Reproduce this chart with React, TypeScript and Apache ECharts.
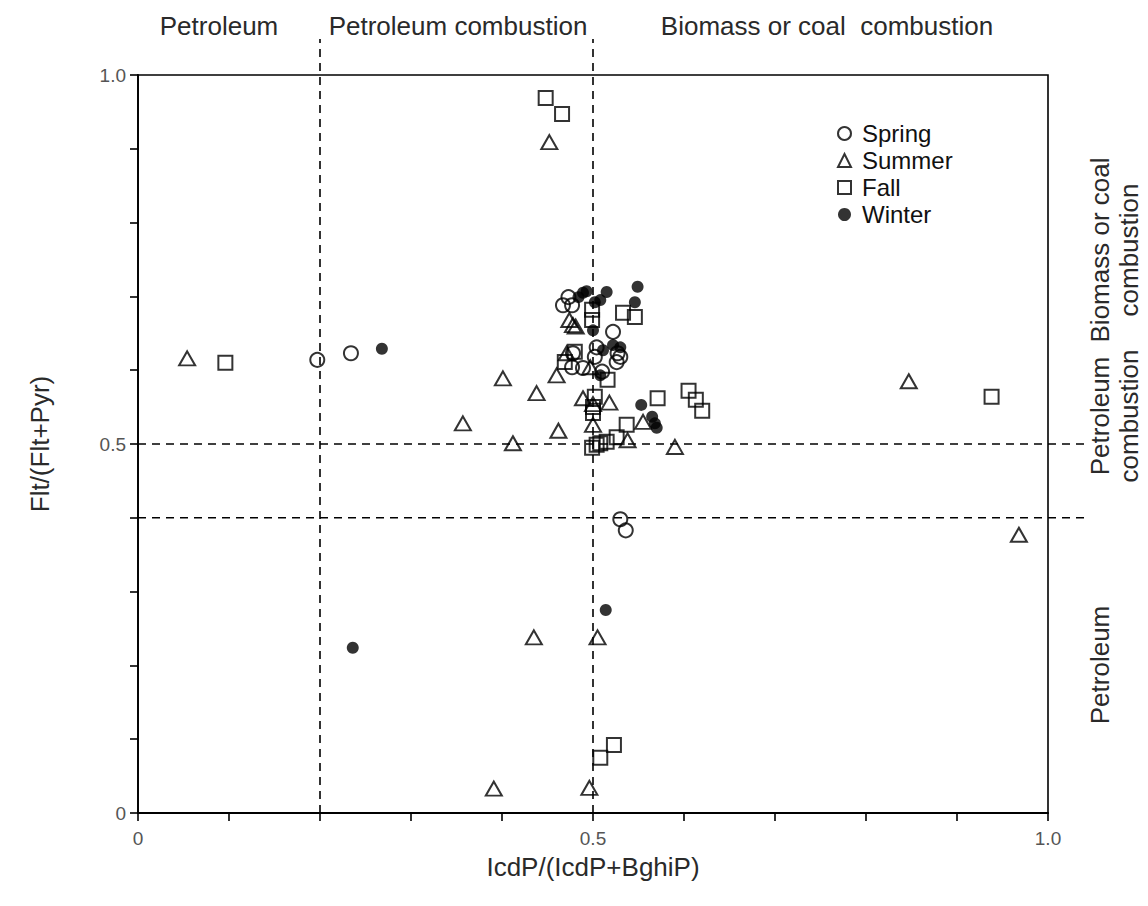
import React, { useEffect, useRef } from "react";
import * as echarts from "echarts";

// IcdP/(IcdP+BghiP) vs Flt/(Flt+Pyr) diagnostic ratios by season
const spring: [number, number][] = [
  [0.197, 0.614], [0.234, 0.623],
  [0.473, 0.699], [0.467, 0.688], [0.477, 0.688],
  [0.522, 0.652], [0.527, 0.623], [0.530, 0.618], [0.526, 0.611],
  [0.504, 0.631], [0.502, 0.618], [0.510, 0.598], [0.477, 0.604],
  [0.489, 0.603], [0.478, 0.623],
  [0.530, 0.398], [0.536, 0.383],
];

const summer: [number, number][] = [
  [0.054, 0.616], [0.452, 0.909],
  [0.474, 0.668], [0.478, 0.661], [0.481, 0.659],
  [0.471, 0.623], [0.460, 0.593], [0.497, 0.604],
  [0.401, 0.589], [0.438, 0.569], [0.357, 0.528], [0.412, 0.501],
  [0.462, 0.518], [0.489, 0.562], [0.500, 0.554], [0.518, 0.556],
  [0.500, 0.526], [0.555, 0.530], [0.538, 0.505], [0.590, 0.496],
  [0.847, 0.585], [0.968, 0.377],
  [0.435, 0.238], [0.505, 0.238],
  [0.391, 0.033], [0.496, 0.034],
];

const fall: [number, number][] = [
  [0.096, 0.610], [0.448, 0.969], [0.466, 0.947],
  [0.499, 0.682], [0.499, 0.668], [0.533, 0.678], [0.546, 0.672],
  [0.480, 0.625], [0.469, 0.611], [0.516, 0.587],
  [0.502, 0.564], [0.500, 0.550], [0.500, 0.542],
  [0.571, 0.562], [0.605, 0.572], [0.613, 0.560], [0.620, 0.545],
  [0.537, 0.526], [0.526, 0.509], [0.515, 0.503], [0.508, 0.501],
  [0.504, 0.499], [0.499, 0.495],
  [0.938, 0.564],
  [0.523, 0.092], [0.508, 0.075],
];

const winter: [number, number][] = [
  [0.268, 0.629],
  [0.484, 0.699], [0.489, 0.705], [0.493, 0.707], [0.515, 0.706],
  [0.549, 0.713], [0.546, 0.692], [0.502, 0.692], [0.508, 0.695],
  [0.500, 0.654],
  [0.522, 0.634], [0.530, 0.631], [0.511, 0.627], [0.508, 0.593],
  [0.553, 0.553], [0.565, 0.537], [0.568, 0.528], [0.570, 0.522],
  [0.236, 0.224], [0.514, 0.275],
];

// Source-diagnostic boundaries
const xDividers = [0.2, 0.5];
const yDividers = [0.4, 0.5];

const xTickLabels: Record<string, string> = { "0": "0", "0.5": "0.5", "1": "1.0" };
const yTickLabels: Record<string, string> = { "0": "0", "0.5": "0.5", "1": "1.0" };

const TEXT = "#2a2a2a";
const FONT = "Liberation Sans, Arial, sans-serif";
const FS = 26;

function tickLabel(map: Record<string, string>) {
  return (v: number) => {
    const key = String(Math.round(v * 10) / 10);
    return map[key] ?? "";
  };
}

const dashStyle = { stroke: "#000", lineWidth: 1.6, lineDash: [8, 6] };

function label(text: string, x: number, y: number, rotated = false) {
  return {
    type: "text",
    x,
    y,
    rotation: rotated ? Math.PI / 2 : 0,
    style: {
      text,
      fontSize: FS,
      lineHeight: 29,
      fill: TEXT,
      align: "center",
      verticalAlign: "middle",
      fontFamily: FONT,
    },
  };
}

export default function App() {
  const ref = useRef<HTMLDivElement>(null);

  useEffect(() => {
    if (!ref.current) return;
    const chart = echarts.init(ref.current, null, { renderer: "svg" });

    const openStyle = {
      color: "rgba(0,0,0,0)",
      borderColor: "#000",
      borderWidth: 2,
    };

    chart.setOption({
      animation: false,
      backgroundColor: "#fff",
      textStyle: { fontFamily: FONT },
      grid: {
        left: 138,
        right: 100,
        top: 75,
        bottom: 93,
        show: true,
        borderColor: "#000",
        borderWidth: 1.6,
        backgroundColor: "transparent",
      },
      xAxis: {
        type: "value",
        min: 0,
        max: 1,
        interval: 0.1,
        name: "IcdP/(IcdP+BghiP)",
        nameLocation: "middle",
        nameGap: 41,
        nameMoveOverlap: false,
        nameTextStyle: { fontSize: FS, color: TEXT, fontFamily: FONT },
        axisLine: { show: true, lineStyle: { color: "#000", width: 2.2 } },
        axisTick: { show: true, inside: false, length: 8, lineStyle: { color: "#000", width: 1.6 } },
        axisLabel: {
          formatter: tickLabel(xTickLabels),
          fontSize: 19,
          color: "#555",
          margin: 16,
          fontFamily: FONT,
        },
        splitLine: { show: false },
      },
      yAxis: {
        type: "value",
        min: 0,
        max: 1,
        interval: 0.1,
        name: "Flt/(Flt+Pyr)",
        nameLocation: "middle",
        nameGap: 85,
        nameMoveOverlap: false,
        nameRotate: 90,
        nameTextStyle: { fontSize: FS, color: TEXT, fontFamily: FONT },
        axisLine: { show: true, lineStyle: { color: "#000", width: 1.8 } },
        axisTick: { show: true, inside: false, length: 8, lineStyle: { color: "#000", width: 1.6 } },
        axisLabel: {
          formatter: tickLabel(yTickLabels),
          fontSize: 19,
          color: "#555",
          margin: 12,
          fontFamily: FONT,
        },
        splitLine: { show: false },
      },
      legend: {
        orient: "vertical",
        left: 832,
        top: 116,
        itemWidth: 13,
        itemHeight: 13,
        itemGap: 2,
        textStyle: {
          fontSize: 24,
          color: "#111",
          fontFamily: FONT,
          lineHeight: 25,
          padding: [0, 0, 0, 6],
        },
        data: ["Spring", "Summer", "Fall", "Winter"],
      },
      graphic: [
        label("Petroleum", 219, 26),
        label("Petroleum combustion", 458, 26),
        label("Biomass or coal  combustion", 827, 26),
        label("Biomass or coal\ncombustion", 1114, 250, true),
        label("Petroleum\ncombustion", 1114, 416, true),
        label("Petroleum", 1100, 665, true),
      ],
      series: [
        {
          name: "vertical dividers",
          type: "custom",
          silent: true,
          clip: false,
          data: xDividers.map((v) => [v, 0]),
          renderItem: (_params: any, api: any) => {
            const x = api.value(0);
            const bottom = api.coord([x, 0]);
            const top = api.coord([x, 1]);
            return {
              type: "line",
              shape: { x1: bottom[0], y1: bottom[1], x2: top[0], y2: top[1] - 36 },
              style: dashStyle,
            };
          },
          z: 1,
        },
        {
          name: "horizontal dividers",
          type: "custom",
          silent: true,
          clip: false,
          data: yDividers.map((v) => [0, v]),
          renderItem: (_params: any, api: any) => {
            const y = api.value(1);
            const left = api.coord([0, y]);
            const right = api.coord([1, y]);
            return {
              type: "line",
              shape: { x1: left[0], y1: left[1], x2: right[0] + 38, y2: right[1] },
              style: dashStyle,
            };
          },
          z: 1,
        },
        {
          name: "Spring",
          type: "scatter",
          symbol: "circle",
          symbolSize: 14,
          data: spring,
          itemStyle: openStyle,
          z: 3,
        },
        {
          name: "Summer",
          type: "scatter",
          symbol: "triangle",
          symbolSize: [16, 14],
          data: summer,
          itemStyle: openStyle,
          z: 3,
        },
        {
          name: "Fall",
          type: "scatter",
          symbol: "rect",
          symbolSize: 14,
          data: fall,
          itemStyle: openStyle,
          z: 3,
        },
        {
          name: "Winter",
          type: "scatter",
          symbol: "circle",
          symbolSize: 12,
          data: winter,
          itemStyle: { color: "#000", borderColor: "#000", borderWidth: 0 },
          z: 4,
        },
      ],
    });

    return () => chart.dispose();
  }, []);

  return (
    <div
      ref={ref}
      style={{ position: "fixed", left: 0, top: 0, width: 1148, height: 906 }}
    />
  );
}
